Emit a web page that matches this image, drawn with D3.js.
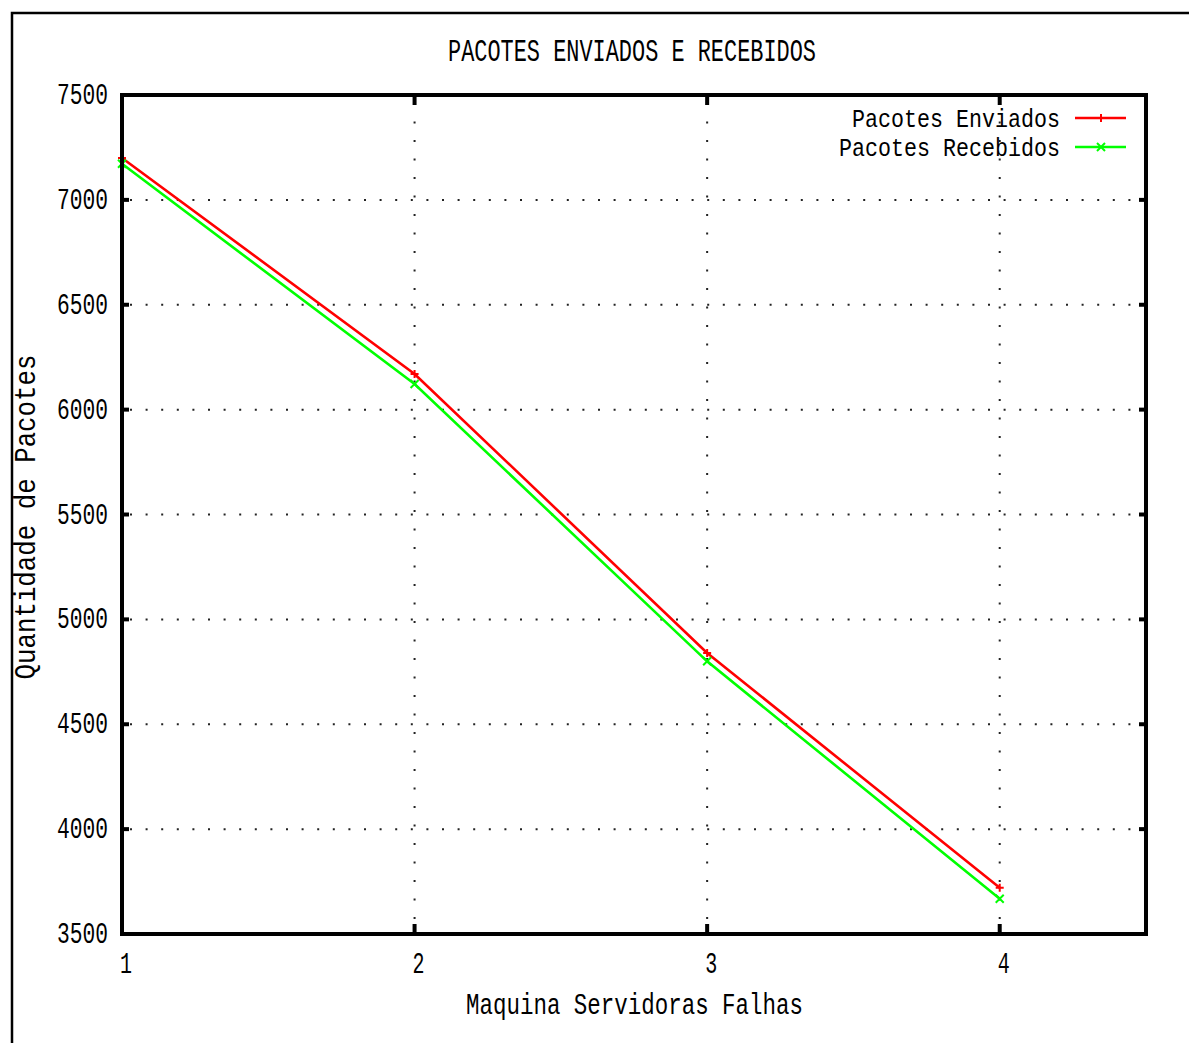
<!DOCTYPE html>
<html>
<head>
<meta charset="utf-8">
<script src="https://cdn.jsdelivr.net/npm/d3@7"></script>
<style>
  html, body { margin: 0; padding: 0; background: #fff; }
  svg { display: block; }
  text { font-family: "Liberation Mono", "DejaVu Sans Mono", monospace; fill: #000; }
</style>
</head>
<body>
<svg id="chart"></svg>
<script>
// ── Data ────────────────────────────────────────────────────────
const falhas      = [1, 2, 3, 4];
const enviados    = [7200, 6170, 4840, 3720];
const recebidos   = [7172, 6122, 4800, 3668];
const xTicks      = [1, 2, 3, 4];
const yTicks      = [3500, 4000, 4500, 5000, 5500, 6000, 6500, 7000, 7500];
const seriesNames = ['Pacotes Enviados', 'Pacotes Recebidos'];
const seriesColors = ['#ff0000', '#00ff00'];

const W = 1189, H = 1043;
const margin = { left: 122, top: 95, right: W - 1146, bottom: H - 934 };
const CHAR_W = 13;

const svg = d3.select('#chart').attr('width', W).attr('height', H);

// outer frame (only left and top edges fall inside the picture)
svg.append('path')
  .attr('d', `M12,${H + 5}V13H${W + 5}`)
  .attr('fill', 'none').attr('stroke', '#000').attr('stroke-width', 2.5);

const x = d3.scaleLinear().domain([1, 4.5]).range([margin.left, W - margin.right]);
const y = d3.scaleLinear().domain([3500, 7500]).range([H - margin.bottom, margin.top]);

// helper: stretched bitmap-ish text
function label(sel, str, opts) {
  const t = sel.append('text')
    .text(str)
    .attr('x', opts.x).attr('y', opts.y)
    .attr('font-size', opts.size || 29)
    .attr('text-anchor', opts.anchor || 'middle')
    .attr('textLength', opts.len || str.length * CHAR_W)
    .attr('lengthAdjust', 'spacingAndGlyphs');
  if (opts.transform) t.attr('transform', opts.transform);
  return t;
}

// ── Grid ────────────────────────────────────────────────────────
const grid = svg.append('g').attr('stroke', '#222').attr('stroke-width', 2);
grid.selectAll('.hgrid').data(yTicks.slice(1, -1)).join('line')
  .attr('x1', x(1) + 8).attr('x2', x(4.5) - 4)
  .attr('y1', d => y(d)).attr('y2', d => y(d))
  .attr('stroke-dasharray', '2,13.6');
grid.selectAll('.vgrid').data(xTicks.slice(1)).join('line')
  .attr('x1', d => x(d)).attr('x2', d => x(d))
  .attr('y1', y(7500) + 8).attr('y2', y(3500) - 8)
  .attr('stroke-dasharray', '2,16.5');

// ── Series ──────────────────────────────────────────────────────
const line = d3.line().x((d, i) => x(falhas[i])).y(d => y(d));
[enviados, recebidos].forEach((vals, s) => {
  svg.append('path')
    .attr('d', line(vals))
    .attr('fill', 'none')
    .attr('stroke', seriesColors[s])
    .attr('stroke-width', 2.6);
  svg.append('g').selectAll('path').data(vals).join('path')
    .attr('d', (d, i) => {
      const px = x(falhas[i]), py = y(d), r = 4;
      return s === 0
        ? `M${px - r},${py}H${px + r}M${px},${py - r}V${py + r}`
        : `M${px - r},${py - r}L${px + r},${py + r}M${px - r},${py + r}L${px + r},${py - r}`;
    })
    .attr('stroke', seriesColors[s]).attr('stroke-width', 2);
});

// ── Frame and ticks ─────────────────────────────────────────────
svg.append('rect')
  .attr('x', x(1)).attr('y', y(7500))
  .attr('width', x(4.5) - x(1)).attr('height', y(3500) - y(7500))
  .attr('fill', 'none').attr('stroke', '#000').attr('stroke-width', 4);

const ticks = svg.append('g').attr('stroke', '#000').attr('stroke-width', 4);
yTicks.forEach(v => {
  ticks.append('line').attr('x1', x(1)).attr('x2', x(1) + 7).attr('y1', y(v)).attr('y2', y(v));
  ticks.append('line').attr('x1', x(4.5)).attr('x2', x(4.5) - 7).attr('y1', y(v)).attr('y2', y(v));
});
xTicks.forEach(v => {
  ticks.append('line').attr('x1', x(v)).attr('x2', x(v)).attr('y1', y(3500)).attr('y2', y(3500) - 10);
  ticks.append('line').attr('x1', x(v)).attr('x2', x(v)).attr('y1', y(7500)).attr('y2', y(7500) + 10);
});

// ── Tick labels ─────────────────────────────────────────────────
yTicks.forEach(v => label(svg, String(v), { x: 108, y: y(v) + 9, anchor: 'end', len: 51 }));
xTicks.forEach(v => label(svg, String(v), { x: x(v) + 4, y: 973, len: 12 }));

// ── Titles ──────────────────────────────────────────────────────
label(svg, 'PACOTES ENVIADOS E RECEBIDOS', { x: 632, y: 61, size: 31, len: 368 });
label(svg, 'Maquina Servidoras Falhas', { x: 634.5, y: 1014, len: 337 });
label(svg, 'Quantidade de Pacotes', {
  x: 0, y: 0, len: 325, transform: 'translate(35,517) rotate(-90)'
});

// ── Legend ──────────────────────────────────────────────────────
seriesNames.forEach((name, s) => {
  const ly = 118 + s * 29;
  label(svg, name, { x: 1060, y: ly + 9, anchor: 'end', size: 26 });
  svg.append('line')
    .attr('x1', 1075).attr('x2', 1126).attr('y1', ly).attr('y2', ly)
    .attr('stroke', seriesColors[s]).attr('stroke-width', 2.6);
  const px = 1101, r = 4;
  svg.append('path')
    .attr('d', s === 0
      ? `M${px},${ly - r}V${ly + r}`
      : `M${px - r},${ly - r}L${px + r},${ly + r}M${px - r},${ly + r}L${px + r},${ly - r}`)
    .attr('stroke', seriesColors[s]).attr('stroke-width', 2);
});
</script>
</body>
</html>
